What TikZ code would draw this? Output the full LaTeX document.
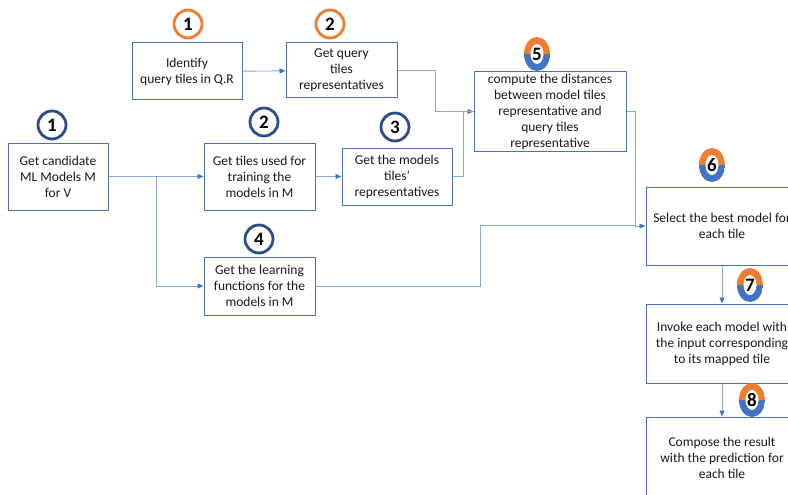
\documentclass[tikz,border=0pt]{standalone}
\usepackage{fontspec}
\setmainfont{Carlito}
\usetikzlibrary{shapes.geometric,arrows.meta}
\definecolor{boxblue}{HTML}{4A70B8}
\definecolor{navy}{HTML}{2B4C86}
\definecolor{orng}{HTML}{ED7D31}
\definecolor{bblue}{HTML}{4472C4}
\definecolor{connc}{HTML}{8AA6DA}
\tikzset{
  box/.style={draw=boxblue, line width=1pt, align=center, inner sep=2pt,
    font=\fontsize{13.5}{16}\selectfont, text=black!90},
  numcirc/.style={circle, line width=2.8pt, minimum size=28pt, inner sep=0pt,
    font=\fontsize{19}{19}\selectfont\bfseries},
  ocirc/.style={numcirc, draw=orng},
  ncirc/.style={numcirc, draw=navy},
  badge/.style={ellipse, minimum width=26pt, minimum height=34pt, inner sep=0pt,
    font=\fontsize{19}{19}\selectfont\bfseries,
    path picture={
      \fill[orng] (path picture bounding box.north west) rectangle (path picture bounding box.east);
      \fill[bblue] (path picture bounding box.west) rectangle (path picture bounding box.south east);
      \fill[white] (path picture bounding box.center) ellipse (6.5pt and 10pt);}},
  conn/.style={draw=connc, line width=0.9pt},
  arr/.style={conn, -{Triangle[length=6pt,width=5pt,fill=bblue,color=bblue]}},
}
\begin{document}
\begin{tikzpicture}[x=1pt,y=-1pt]
\useasboundingbox (0,0) rectangle (788,495);
% boxes
\node[box, minimum width=110pt, minimum height=57pt] (q1) at (187,71.5) {Identify\\query tiles in Q.R};
\node[box, minimum width=111pt, minimum height=55pt] (q2) at (341.5,70.5) {Get query\\tiles\\representatives};
\node[box, minimum width=100pt, minimum height=67pt] (m1) at (58,176.5) {Get candidate\\ML Models M\\for V};
\node[box, minimum width=111pt, minimum height=67pt] (m2) at (259.5,176.5) {Get tiles used for\\training the\\models in M};
\node[box, minimum width=110pt, minimum height=57pt] (m3) at (397,176.5) {Get the models\\tiles’\\representatives};
\node[box, minimum width=152pt, minimum height=79pt] (c5) at (550,111.5) {compute the distances\\between model tiles\\representative and\\query tiles\\representative};
\node[box, minimum width=111pt, minimum height=58pt] (m4) at (259.5,286) {Get the learning\\functions for the\\models in M};
\node[box, minimum width=152pt, minimum height=78pt] (s6) at (722,226) {Select the best model for\\each tile};
\node[box, minimum width=152pt, minimum height=79pt] (i7) at (722,343.5) {Invoke each model with\\the input corresponding\\to its mapped tile};
\node[box, minimum width=152pt, minimum height=82pt] (c8) at (722,458) {Compose the result\\with the prediction for\\each tile};
% number circles
\node[ocirc] (o1) at (188,24) {1};
\node[ocirc] (o2) at (330,24) {2};
\node[ncirc] (n1) at (52,125) {1};
\node[ncirc] (n2) at (264,122) {2};
\node[ncirc] (n3) at (395,127) {3};
\node[ncirc] (n4) at (259,239) {4};
% badges
\node[badge] (b5) at (537,54) {5};
\node[badge] (b6) at (712,165) {6};
\node[badge] (b7) at (750,285) {7};
\node[badge] (b8) at (752,400) {8};
% connectors
\coordinate (jq) at (435,70.5);
\coordinate (jm) at (463,176.5);
\coordinate (jr) at (635,111.5);
\coordinate (jl) at (480,225);
\coordinate (jx) at (635,225);
\coordinate (jb) at (156,176.5);
\draw[arr] (q1) -- (q2);
\draw[arr] (q2.east) -- (jq) |- (c5.west);
\draw[conn] (m3.east) -- (jm) |- (c5.west);
\draw[arr] (m1) -- (m2);
\draw[arr] (m2) -- (m3);
\draw[arr] (jb) |- (m4.west);
\draw[arr] (c5.east) -- (jr) |- (s6.west);
\draw[conn] (m4.east) -| (jl) -- (jx);
\draw[arr] (s6) -- (i7);
\draw[arr] (i7) -- (c8);
\end{tikzpicture}
\end{document}
